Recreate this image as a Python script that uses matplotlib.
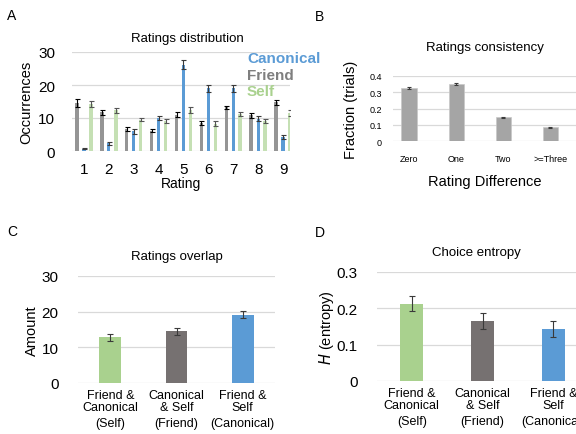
import numpy as np
import matplotlib
matplotlib.use("Agg")
import matplotlib.pyplot as plt
import matplotlib.transforms as mtransforms

plt.rcParams['font.family'] = ['Liberation Sans', 'DejaVu Sans']

# A: ratings distribution
ratings = [1, 2, 3, 4, 5, 6, 7, 8, 9]
friend = [14.5, 11.7, 6.7, 6.2, 11.0, 8.5, 13.2, 10.8, 14.8]
friend_err = [1.2, 0.8, 0.5, 0.5, 0.8, 0.5, 0.5, 0.8, 0.8]
canonical = [0.7, 2.3, 6.0, 10.0, 26.2, 19.0, 19.0, 9.8, 4.2]
canonical_err = [0.2, 0.5, 0.8, 0.6, 1.4, 1.0, 1.0, 0.8, 0.7]
self_r = [14.2, 12.3, 9.5, 9.2, 12.3, 8.3, 11.2, 9.0, 11.5]
self_err = [1.0, 0.7, 0.5, 0.6, 0.9, 0.7, 0.6, 0.6, 0.8]

# B: ratings consistency
diff_labels = ['Zero', 'One', 'Two', '>=Three']
consistency = [0.327, 0.350, 0.145, 0.085]
consistency_err = [0.007, 0.005, 0.005, 0.004]

# C / D
pair_labels = ['Friend &\nCanonical', 'Canonical\n& Self', 'Friend &\nSelf']
left_out = ['(Self)', '(Friend)', '(Canonical)']
overlap = [12.8, 14.5, 19.2]
overlap_err = [1.0, 1.0, 1.1]
entropy = [0.213, 0.165, 0.143]
entropy_err = [0.021, 0.021, 0.021]

BLUE = '#5b9bd5'
GRAY = '#959595'
GREEN_LIGHT = '#c5e0b4'
GREEN = '#a9d18e'
DARK = '#767171'
GRID = '#d9d9d9'

W, H = 576, 435
fig = plt.figure(figsize=(W / 100, H / 100), dpi=100)


def px_axes(x0, y0, x1, y1):
    return fig.add_axes([x0 / W, 1 - y1 / H, (x1 - x0) / W, (y1 - y0) / H])


def style(ax):
    for s in ax.spines.values():
        s.set_visible(False)
    ax.yaxis.grid(True, color=GRID, linewidth=0.9)
    ax.set_axisbelow(True)
    ax.tick_params(length=0)


ekw = dict(ecolor='#3a3a3a', elinewidth=0.8, capsize=1.8, capthick=0.8)

# ---- A ----
ax = px_axes(72, 53, 290, 152)
style(ax)
x = np.array(ratings)
ax.bar(x - 0.28, friend, 0.14, color=GRAY, yerr=friend_err, error_kw=dict(ekw, ecolor='black'))
ax.bar(x, canonical, 0.13, color=BLUE, yerr=canonical_err, error_kw=ekw)
ax.bar(x + 0.28, self_r, 0.14, color=GREEN_LIGHT, yerr=self_err, error_kw=dict(ekw, ecolor='#555555'))
ax.set_xlim(0.52, 9.28)
ax.set_ylim(0, 30)
ax.set_yticks([0, 10, 20, 30])
ax.set_xticks(ratings)
ax.tick_params(axis='y', labelsize=11, pad=12)
ax.tick_params(axis='x', labelsize=11, pad=8)
ax.set_xlabel('Rating', fontsize=10)
ax.xaxis.set_label_coords(0.5, -0.255)
ax.set_ylabel('Occurrences', fontsize=10.5, labelpad=4)
ax.set_title('Ratings distribution', fontsize=9.5, pad=8, x=0.53)
for label, col, yy in [('Canonical', BLUE, 59), ('Friend', '#7f7f7f', 76), ('Self', GREEN, 92)]:
    fig.text(247 / W, 1 - yy / H, label, color=col, fontsize=11, fontweight='bold',
             va='center', ha='left')

# ---- B ----
ax = px_axes(393, 77, 576, 142)
style(ax)
xb = np.arange(len(diff_labels))
ax.bar(xb, consistency, 0.32, color='#a5a5a5', edgecolor='#c8c8c8', linewidth=0.5,
       yerr=consistency_err, error_kw=dict(ekw, capsize=1.2))
ax.set_xlim(-0.34, 3.55)
ax.set_ylim(0, 0.4)
ax.set_yticks([0, 0.1, 0.2, 0.3, 0.4])
ax.set_yticklabels(['0', '0.1', '0.2', '0.3', '0.4'])
ax.set_xticks(xb)
ax.set_xticklabels(diff_labels)
ax.tick_params(labelsize=6.5)
ax.tick_params(axis='y', pad=8)
ax.tick_params(axis='x', pad=9)
ax.set_xlabel('Rating Difference', fontsize=10.5, labelpad=8)
ax.set_ylabel('Fraction (trials)', fontsize=10.5, labelpad=8)
ax.set_title('Ratings consistency', fontsize=9.5, pad=19)


def pair_panel(ax, vals, errs, ylim, yticks, yticklabels, title, ylabel, ylabelpad):
    style(ax)
    xp = np.arange(3)
    ax.bar(xp, vals, 0.33, color=[GREEN, DARK, BLUE], yerr=errs, error_kw=dict(ekw, capsize=2.2))
    ax.set_ylim(*ylim)
    ax.set_yticks(yticks)
    ax.set_yticklabels(yticklabels)
    ax.set_xticks(xp)
    ax.set_xticklabels(pair_labels, fontsize=9, linespacing=1.05)
    ax.tick_params(axis='y', labelsize=11, pad=14)
    ax.tick_params(axis='x', pad=4)
    trans = mtransforms.blended_transform_factory(ax.transData, ax.transAxes)
    for xi, t in zip(xp, left_out):
        ax.text(xi, -0.37, t, transform=trans, ha='center', va='center', fontsize=9)
    ax.set_title(title, fontsize=9.5, pad=12)
    ax.set_ylabel(ylabel, fontsize=10.5, labelpad=ylabelpad)


# ---- C ----
ax = px_axes(78, 277, 275, 384)
ax.set_xlim(-0.49, 2.49)
pair_panel(ax, overlap, overlap_err, (0, 30), [0, 10, 20, 30], ['0', '10', '20', '30'],
           'Ratings overlap', 'Amount', 2)

# ---- D ----
ax = px_axes(377, 273, 576, 382)
ax.set_xlim(-0.49, 2.32)
pair_panel(ax, entropy, entropy_err, (0, 0.3), [0, 0.1, 0.2, 0.3], ['0', '0.1', '0.2', '0.3'],
           'Choice entropy', '$H$ (entropy)', 0)

# panel letters
for letter, xx, yy in [('A', 12, 16), ('B', 320, 17), ('C', 12, 232), ('D', 320, 233)]:
    fig.text(xx / W, 1 - yy / H, letter, fontsize=10, va='center', ha='center')

fig.savefig('out.png', dpi=100)
